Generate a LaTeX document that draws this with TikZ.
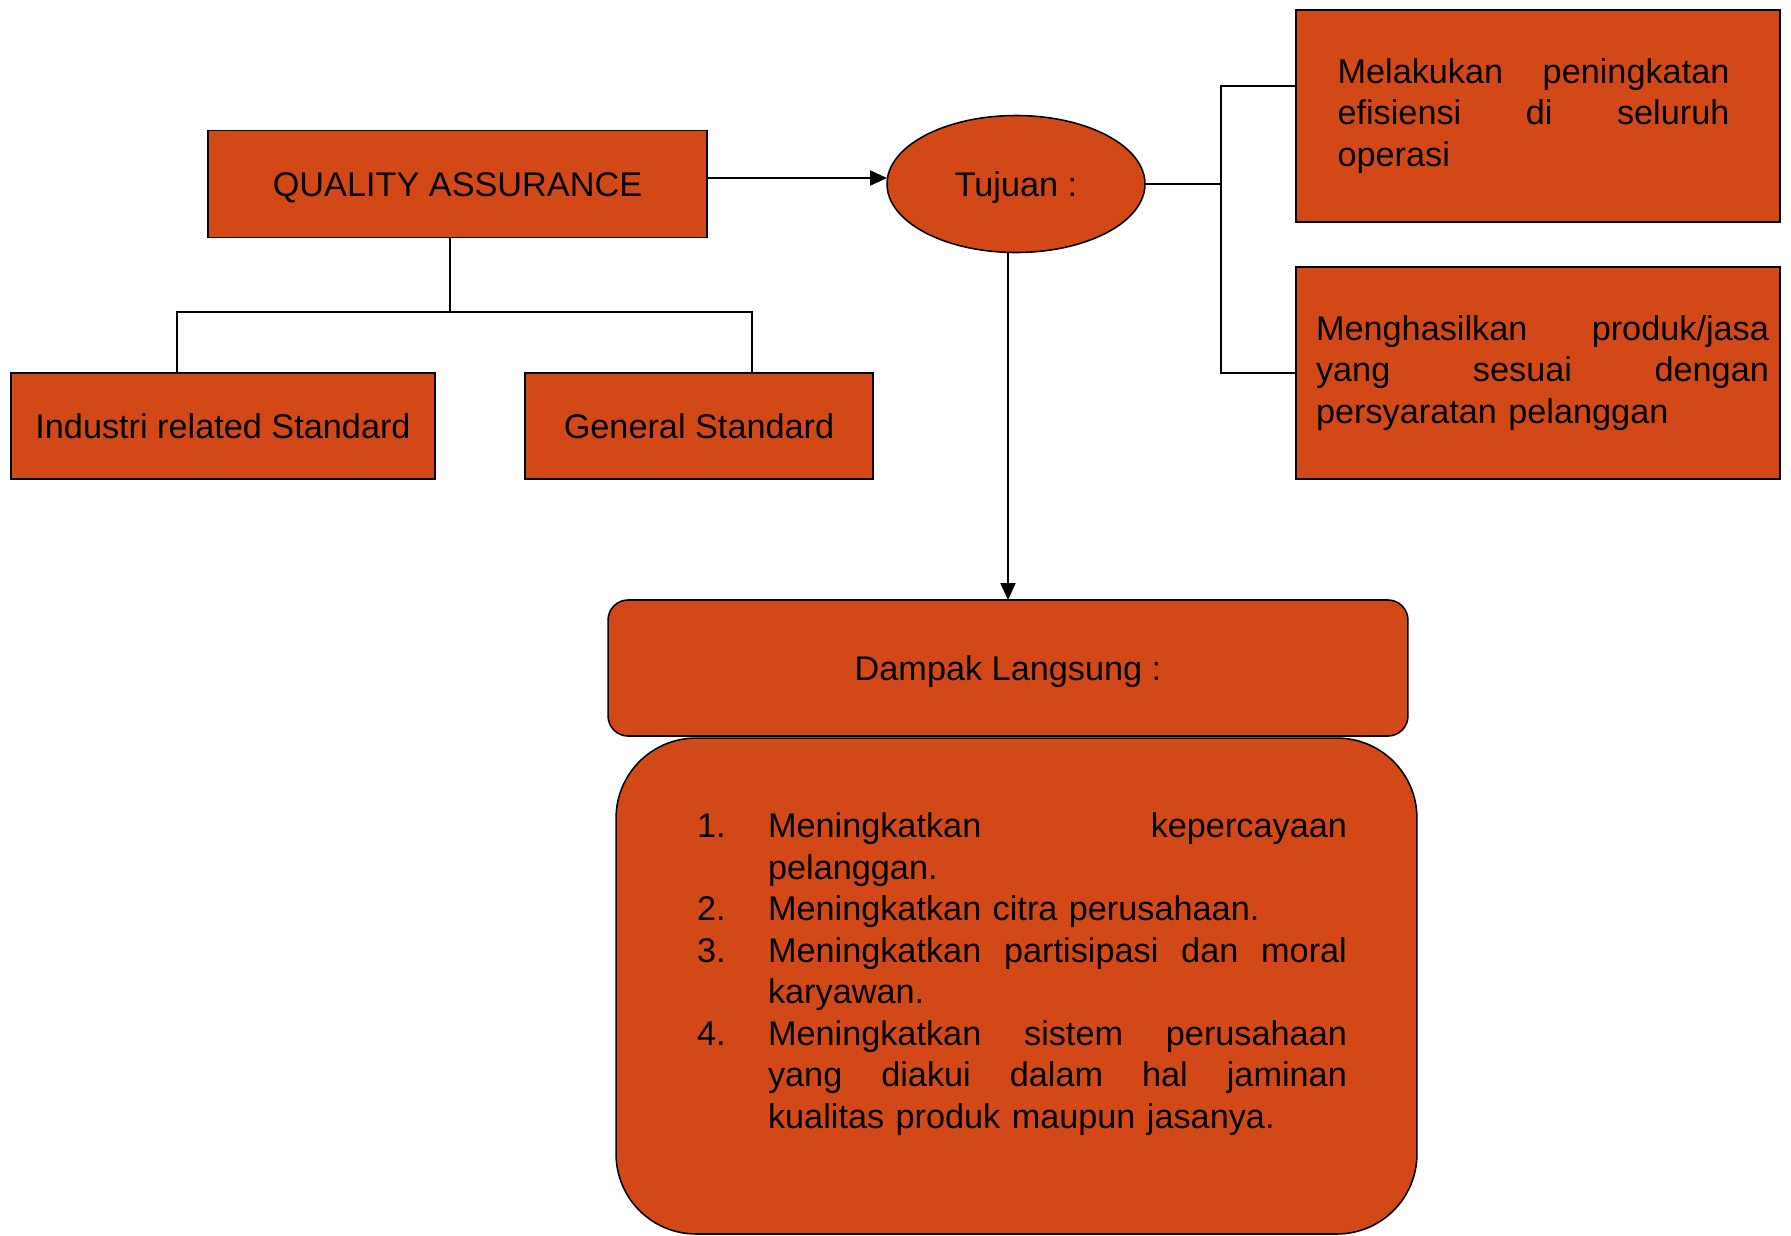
\documentclass[tikz,border=0pt]{standalone}
\usepackage{fontspec}
\setmainfont{Liberation Sans}
\usepackage{xcolor}
\usetikzlibrary{arrows.meta,positioning,shapes.geometric}
\setlength{\parindent}{0pt}
\definecolor{qaorange}{HTML}{D34817}
\newcommand{\qasize}{\fontsize{19.5pt}{23.6pt}\selectfont}
\tikzset{
  qabox/.style={draw,fill=qaorange,line width=0.9pt,inner sep=0pt,outer sep=0pt,align=center,font=\qasize},
  qaline/.style={qabox,text height=14pt,text depth=0pt},
  qatext/.style={qabox,align=left},
  qaoval/.style={qaline,ellipse,minimum width=5.16cm,minimum height=2.74cm},
  qaplain/.style={inner sep=0pt,outer sep=0pt,align=left,font=\qasize},
  link/.style={line width=1pt},
  arr/.style={-{Triangle[length=0.34cm,width=0.3cm]},line width=1.2pt}
}

\begin{document}
\begin{tikzpicture}[x=0.02cm,y=-0.02cm,node distance=0.9cm]
  \useasboundingbox (0,0) rectangle (1791,1235);
  %% left tree
  \node[qaline,minimum width=9.98cm,minimum height=2.14cm] (qa) at (457.5,184) {QUALITY ASSURANCE};
  \node[qaline,minimum width=8.48cm,minimum height=2.12cm] (ind) at (223,426) {Industri related Standard};
  \node[qaline,minimum width=6.96cm,minimum height=2.12cm] (gen) at (699,426) {General Standard};
  \coordinate (jm) at (450,312);
  \coordinate (jl) at (177,312);
  \coordinate (jr) at (752,312);
  \draw[link] (qa.south -| jm) -- (jm);
  \draw[link] (ind.north -| jl) -- (jl) -- (jr) -- (gen.north -| jr);
  %% tujuan
  \node[qaoval] (tuj) at (1016,184) {Tujuan :};
  \draw[arr] ([yshift=0.12cm]qa.east) -- ([yshift=0.12cm]tuj.west);
  \node[qatext,minimum width=9.68cm,minimum height=4.24cm,text width=8.02cm] (eff) at (1538,116)
    {Melakukan\hfill peningkatan\hspace*{0.18cm}\mbox{}\\
     efisiensi\hfill di\hfill seluruh\hspace*{0.18cm}\mbox{}\\
     operasi};
  \node[qatext,minimum width=9.68cm,minimum height=4.24cm,text width=9.24cm,below=of eff] (prod)
    {\hspace*{0.18cm}Menghasilkan\hfill produk/jasa\\
     \hspace*{0.18cm}yang\hfill sesuai\hfill dengan\\
     \hspace*{0.18cm}persyaratan pelanggan};
  \coordinate (tb) at (1221,184);
  \draw[link] (tuj.east) -- (tb);
  \draw[link] ([yshift=0.6cm]eff.west) -| (tb) |- (prod.west);
  %% dampak
  \node[qaline,rounded corners=0.4cm,minimum width=16cm,minimum height=2.72cm] (damp) at (1008,668) {Dampak Langsung :};
  \draw[arr] (tuj.south -| damp.north) -- (damp.north);
  \node[qabox,rounded corners=1.6cm,minimum width=16.02cm,minimum height=9.92cm] (dlist) at (1016.5,986) {};
  \node[qaplain,text width=13cm] (dtext) at (1022,974) {%
    \makebox[1.42cm][l]{1.}Meningkatkan\hfill kepercayaan\\
    \hspace*{1.42cm}pelanggan.\\
    \makebox[1.42cm][l]{2.}Meningkatkan citra perusahaan.\\
    \makebox[1.42cm][l]{3.}Meningkatkan\hfill partisipasi\hfill dan\hfill moral\\
    \hspace*{1.42cm}karyawan.\\
    \makebox[1.42cm][l]{4.}Meningkatkan\hfill sistem\hfill perusahaan\\
    \hspace*{1.42cm}yang\hfill diakui\hfill dalam\hfill hal\hfill jaminan\\
    \hspace*{1.42cm}kualitas produk maupun jasanya.};
\end{tikzpicture}
\end{document}
